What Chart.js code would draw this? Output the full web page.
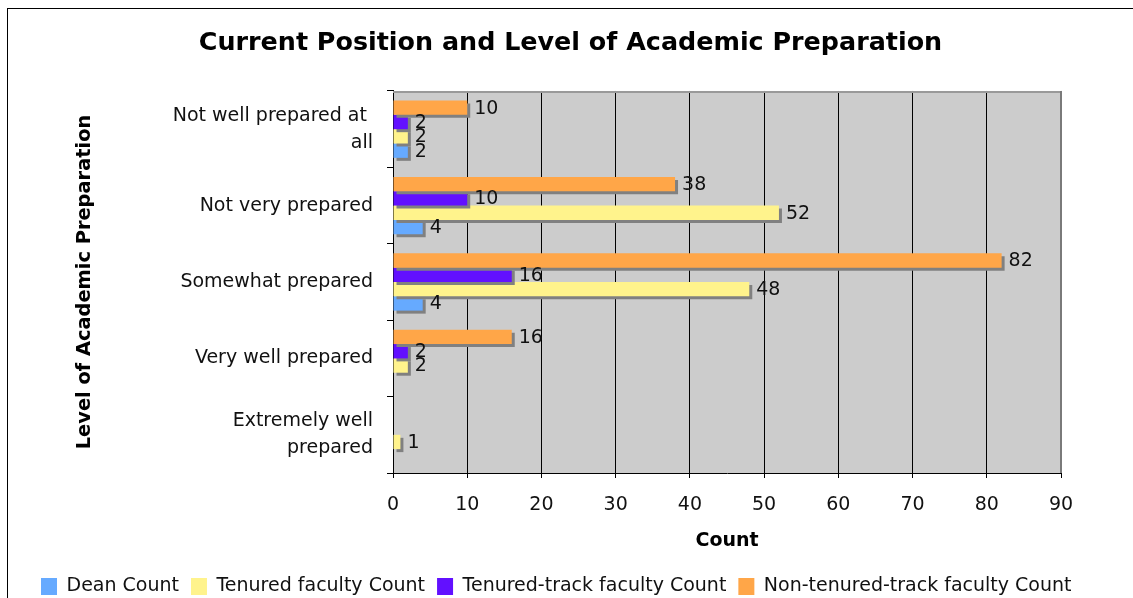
<!DOCTYPE html>
<html><head><meta charset="utf-8">
<script src="https://cdn.jsdelivr.net/npm/chart.js@4.4.0/dist/chart.umd.min.js"></script>
<style>
html,body{margin:0;padding:0;background:#fff;overflow:hidden;width:1133px;height:598px;}
#frame{position:absolute;left:7px;top:8px;width:1200px;height:700px;border:1px solid #000;box-sizing:border-box;}
#c{position:absolute;left:0;top:0;}
</style></head><body>
<div id="frame"></div>
<canvas id="c" width="1133" height="606"></canvas>
<script>
// ---- data ----
const categories = [["Not well prepared at ", "all"], "Not very prepared", "Somewhat prepared", "Very well prepared", ["Extremely well", "prepared"]];
const seriesNames = ["Dean Count", "Tenured faculty Count", "Tenured-track faculty Count", "Non-tenured-track faculty Count"];
const deanCount = [2, 4, 4, null, null];
const tenuredCount = [2, 52, 48, 2, 1];
const tenureTrackCount = [2, 10, 16, 2, null];
const nonTenureTrackCount = [10, 38, 82, 16, null];
const xMin = 0, xMax = 90, xStep = 10;
const colors = { dean: "#66aaff", tenured: "#fff38c", tenureTrack: "#6210ff", nonTenure: "#ffa648" };

Chart.defaults.font.family = '"DejaVu Sans", Verdana, sans-serif';
Chart.defaults.color = '#111';

const decor = {
  id: 'decor',
  beforeDraw(chart) {
    const {ctx, chartArea: a} = chart;
    ctx.save();
    ctx.fillStyle = '#cccccc';
    ctx.fillRect(a.left, a.top, a.right - a.left, a.bottom - a.top);
    ctx.restore();
  },
  beforeDatasetsDraw(chart) {
    const {ctx, chartArea: a} = chart;
    ctx.save();
    ctx.strokeStyle = '#999999';
    ctx.lineWidth = 2;
    ctx.beginPath(); ctx.moveTo(a.left, a.top + 1); ctx.lineTo(a.right, a.top + 1); ctx.stroke();
    ctx.strokeStyle = '#7a7a7a';
    ctx.beginPath(); ctx.moveTo(a.right, a.top); ctx.lineTo(a.right, a.bottom); ctx.stroke();
    ctx.restore();
    ctx.save();
    ctx.shadowColor = '#808080';
    ctx.shadowOffsetX = 3;
    ctx.shadowOffsetY = 3;
    ctx.shadowBlur = 0;
  },
  afterDatasetsDraw(chart) {
    const ctx = chart.ctx;
    ctx.restore();
    ctx.save();
    ctx.font = '19px "DejaVu Sans", Verdana, sans-serif';
    ctx.fillStyle = '#111';
    ctx.textAlign = 'left';
    ctx.textBaseline = 'middle';
    chart.data.datasets.forEach((ds, i) => {
      const meta = chart.getDatasetMeta(i);
      meta.data.forEach((bar, j) => {
        const v = ds.data[j];
        if (v === null || v === undefined) return;
        ctx.fillText(String(v), bar.x + 7, bar.y + 1);
      });
    });
    ctx.restore();
  }
};

new Chart(document.getElementById('c'), {
  type: 'bar',
  data: {
    labels: categories,
    datasets: [
      { label: seriesNames[3], data: nonTenureTrackCount, backgroundColor: colors.nonTenure },
      { label: seriesNames[2], data: tenureTrackCount, backgroundColor: colors.tenureTrack },
      { label: seriesNames[1], data: tenuredCount, backgroundColor: colors.tenured },
      { label: seriesNames[0], data: deanCount, backgroundColor: colors.dean }
    ]
  },
  options: {
    indexAxis: 'y',
    responsive: false,
    devicePixelRatio: 1,
    animation: false,
    datasets: { bar: { categoryPercentage: 0.75, barPercentage: 1.0, borderWidth: 0 } },
    layout: { padding: { left: 29, right: 21, top: 0, bottom: 0 } },
    scales: {
      x: {
        min: xMin, max: xMax,
        ticks: { stepSize: xStep, padding: 16, font: { size: 19 }, color: '#111' },
        grid: { color: '#000', lineWidth: 1, tickLength: 5 },
        border: { color: '#000', width: 1 },
        title: { display: true, text: 'Count', font: { size: 19, weight: 'bold' }, color: '#000', padding: { top: 0, bottom: 12.6 } },
        afterFit(s) { s.height = 92; }
      },
      y: {
        ticks: { padding: 14, font: { size: 19, lineHeight: 1.42 }, color: '#111' },
        grid: { drawOnChartArea: false, offset: true, tickLength: 6, color: '#000' },
        border: { color: '#000', width: 1 },
        title: { display: true, text: 'Level of Academic Preparation', font: { size: 19.4, weight: 'bold' }, color: '#000', padding: { top: 44.6, bottom: 0 } },
        afterFit(s) { s.width = 364; }
      },
      y2: {
        type: 'category', position: 'right', display: true,
        grid: { display: false }, ticks: { display: false }, border: { display: false },
        afterFit(s) { s.width = 51; }
      }
    },
    plugins: {
      title: { display: true, text: 'Current Position and Level of Academic Preparation', font: { size: 25.4, weight: 'bold' }, color: '#000', padding: { top: 28, bottom: 32.5 } },
      legend: { position: 'bottom', align: 'start', reverse: true, labels: { boxWidth: 16, boxHeight: 17, padding: 12, font: { size: 19 }, color: '#111' } },
      tooltip: { enabled: false }
    }
  },
  plugins: [decor]
});
</script>
</body></html>
